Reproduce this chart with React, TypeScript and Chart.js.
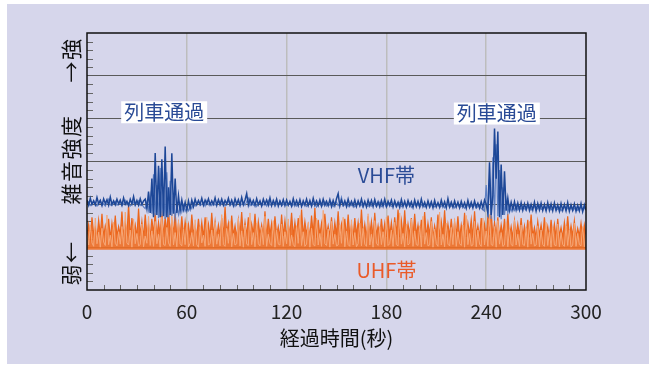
import React, { useEffect, useRef } from "react";
import { Chart, registerables } from "chart.js";

Chart.register(...registerables);

// x-axis tick labels (seconds)
const X_TICKS = [0, 60, 120, 180, 240, 300];
const X_MAX = 300;
const Y_MAX = 6; // relative noise strength, arbitrary units
const SAMPLE_SEC = 1; // one sample per second

// VHF band noise level, main trace (t = 0..300 s)
const VHF = [
  2.10, 1.98, 2.14, 2.00, 2.08, 1.99, 2.16, 2.01, 2.09, 1.97, 2.13, 2.02, 2.11, 1.98, 2.17, 2.00, 2.08, 1.99, 2.12, 2.01,
  2.10, 1.98, 2.15, 2.00, 2.07, 1.97, 2.12, 2.01, 2.18, 1.99, 2.09, 1.98, 2.13, 2.00, 2.08, 2.12, 1.90, 2.30, 1.80, 2.60,
  1.70, 3.20, 1.75, 2.90, 1.70, 3.05, 1.72, 3.35, 1.70, 2.40, 1.75, 3.19, 1.78, 2.60, 1.80, 2.20, 1.85, 2.10, 1.88, 2.05,
  1.86, 2.08, 1.90, 2.10, 1.95, 2.12, 1.99, 2.09, 2.00, 2.14, 1.98, 2.10, 2.01, 2.13, 1.99, 2.08, 2.00, 2.15, 1.98, 2.11,
  2.00, 2.12, 1.98, 2.09, 2.01, 2.14, 1.99, 2.10, 1.97, 2.13, 2.00, 2.11, 1.98, 2.16, 1.99, 2.10, 2.25, 1.98, 2.12, 2.00,
  2.09, 1.97, 2.13, 1.99, 2.08, 1.96, 2.12, 2.00, 2.10, 1.98, 2.15, 1.97, 2.09, 1.99, 2.12, 1.96, 2.08, 1.98, 2.11, 1.97,
  2.10, 1.98, 2.07, 1.96, 2.13, 1.98, 2.09, 1.97, 2.11, 1.95, 2.08, 1.98, 2.12, 1.97, 2.09, 1.96, 2.14, 1.98, 2.08, 1.97,
  2.10, 1.96, 2.12, 1.98, 2.07, 1.97, 2.11, 1.95, 2.09, 1.97, 2.13, 2.25, 1.96, 2.10, 1.98, 2.08, 1.95, 2.12, 1.97, 2.07,
  1.96, 2.10, 1.95, 2.08, 1.97, 2.12, 1.96, 2.07, 1.94, 2.10, 1.97, 2.09, 1.95, 2.11, 1.96, 2.06, 1.94, 2.09, 1.96, 2.12,
  1.95, 2.07, 1.97, 2.10, 1.94, 2.08, 1.96, 2.05, 1.93, 2.11, 1.95, 2.07, 1.94, 2.09, 1.96, 2.06, 1.93, 2.10, 1.95, 2.07,
  1.94, 2.12, 1.95, 2.05, 1.93, 2.08, 1.95, 2.06, 1.92, 2.09, 1.94, 2.04, 1.93, 2.10, 1.95, 2.06, 1.92, 2.13, 1.94, 2.05,
  1.93, 2.08, 1.94, 2.05, 1.92, 2.07, 1.94, 2.04, 1.91, 2.09, 1.93, 2.05, 1.92, 2.08, 1.94, 2.03, 1.91, 2.06, 1.92, 2.10,
  2.00, 1.80, 2.98, 1.75, 2.20, 3.77, 2.60, 3.70, 1.70, 2.93, 1.75, 2.77, 1.85, 2.15, 1.86, 2.05, 1.88, 2.06, 1.87, 2.03,
  1.87, 2.04, 1.86, 2.01, 1.88, 2.03, 1.86, 2.00, 1.87, 2.05, 1.85, 2.02, 1.87, 2.03, 1.86, 2.00, 1.85, 2.04, 1.86, 2.01,
  1.85, 2.03, 1.86, 1.99, 1.84, 2.02, 1.86, 2.00, 1.85, 2.04, 1.84, 1.99, 1.86, 2.01, 1.84, 1.98, 1.85, 2.02, 1.83, 1.99,
  1.86,
];

// VHF band noise level, second (lighter) trace
const VHF2 = [
  2.02, 2.06, 1.97, 2.00, 2.08, 1.99, 1.96, 2.04, 2.10, 1.98, 2.01, 1.96, 2.05, 2.12, 1.99, 1.97, 2.03, 2.07, 1.98, 2.00,
  2.06, 1.97, 2.01, 2.09, 1.99, 2.03, 1.96, 2.00, 2.05, 1.98, 2.02, 2.08, 1.97, 2.00, 1.94, 1.90, 2.05, 1.86, 2.20, 1.78,
  2.70, 1.74, 2.45, 1.68, 2.85, 1.72, 2.30, 1.66, 2.75, 1.70, 2.55, 1.73, 2.20, 1.69, 1.95, 1.76, 2.02, 1.82, 1.98, 1.84,
  1.92, 1.85, 1.97, 1.90, 2.03, 1.96, 2.01, 2.06, 1.97, 2.00, 2.04, 1.96, 2.08, 1.99, 2.02, 1.97, 2.05, 1.98, 2.01, 2.07,
  1.97, 2.02, 2.05, 1.96, 2.00, 2.09, 1.98, 2.01, 2.04, 1.95, 2.02, 2.07, 1.97, 2.00, 2.03, 1.98, 2.06, 2.14, 1.97, 2.02,
  1.98, 2.04, 1.95, 2.01, 2.06, 1.97, 1.99, 2.03, 1.96, 2.08, 1.98, 2.00, 2.05, 1.95, 2.02, 1.99, 2.07, 1.96, 2.00, 2.04,
  1.97, 2.01, 2.05, 1.95, 1.99, 2.04, 1.96, 2.02, 2.07, 1.97, 1.99, 2.03, 1.95, 2.00, 2.06, 1.96, 2.01, 2.04, 1.94, 2.00,
  2.03, 1.95, 1.99, 2.06, 1.96, 2.01, 1.98, 2.04, 1.95, 2.00, 2.05, 1.97, 2.02, 2.16, 1.96, 1.99, 2.04, 1.95, 2.01, 1.97,
  2.03, 1.94, 1.99, 2.05, 1.96, 2.00, 1.93, 2.02, 1.97, 1.95, 2.04, 1.96, 1.99, 2.02, 1.94, 2.00, 2.05, 1.95, 1.98, 2.01,
  1.94, 1.99, 2.03, 1.95, 1.97, 2.02, 1.93, 2.00, 2.04, 1.95, 1.98, 2.01, 1.94, 1.99, 2.03, 1.93, 1.97, 2.00, 1.95, 2.02,
  1.93, 1.98, 2.01, 1.94, 1.96, 2.03, 1.92, 1.99, 2.00, 1.94, 1.97, 2.02, 1.93, 1.96, 2.00, 1.92, 1.98, 2.01, 1.93, 1.96,
  2.00, 1.92, 1.97, 2.01, 1.93, 1.95, 1.99, 1.91, 1.96, 2.00, 1.92, 1.97, 1.94, 1.99, 1.91, 1.95, 1.98, 1.90, 1.88, 1.84,
  2.45, 1.70, 2.60, 1.66, 3.10, 1.62, 3.40, 1.72, 2.80, 1.65, 2.40, 1.75, 2.10, 1.80, 1.97, 1.84, 1.95, 1.86, 1.99, 1.87,
  1.93, 1.88, 1.96, 1.90, 1.86, 1.94, 1.98, 1.87, 1.92, 1.95, 1.86, 1.91, 1.97, 1.88, 1.90, 1.94, 1.86, 1.93, 1.96, 1.87,
  1.91, 1.95, 1.86, 1.89, 1.93, 1.85, 1.90, 1.96, 1.86, 1.92, 1.88, 1.94, 1.85, 1.90, 1.93, 1.86, 1.89, 1.95, 1.85, 1.91,
  1.88,
];

// UHF band noise level, main trace (t = 0..300 s)
const UHF = [
  1.26, 1.53, 1.22, 1.70, 1.30, 1.46, 1.20, 1.63, 1.28, 1.78, 1.23, 1.50, 1.32, 1.66, 1.19, 1.56, 1.26, 1.74, 1.24, 1.48,
  1.29, 1.83, 1.22, 1.58, 1.27, 2.00, 1.21, 1.68, 1.31, 1.52, 1.23, 1.90, 1.26, 1.60, 1.20, 1.76, 1.28, 1.54, 1.24, 1.66,
  1.30, 1.80, 1.22, 1.58, 1.27, 1.86, 1.23, 1.70, 1.32, 1.92, 1.25, 1.63, 1.29, 1.82, 1.21, 1.56, 1.26, 1.72, 1.23, 1.60,
  1.28, 1.53, 1.22, 1.76, 1.30, 1.48, 1.24, 1.66, 1.27, 1.58, 1.21, 1.70, 1.29, 1.54, 1.23, 1.80, 1.26, 1.60, 1.22, 1.52,
  1.28, 1.68, 1.24, 1.94, 1.30, 1.56, 1.23, 1.74, 1.27, 1.50, 1.21, 1.63, 1.29, 1.82, 1.24, 1.58, 1.26, 1.70, 1.22, 1.54,
  1.30, 1.78, 1.23, 1.60, 1.28, 1.52, 1.25, 1.84, 1.21, 1.66, 1.29, 1.56, 1.24, 1.72, 1.27, 1.48, 1.22, 1.76, 1.26, 1.62,
  1.23, 1.54, 1.29, 1.80, 1.24, 1.58, 1.27, 1.68, 1.21, 1.88, 1.26, 1.60, 1.30, 1.52, 1.23, 1.74, 1.28, 1.92, 1.22, 1.64,
  1.27, 1.56, 1.23, 1.78, 1.29, 1.50, 1.25, 1.70, 1.21, 1.58, 1.28, 1.84, 1.24, 1.54, 1.30, 1.66, 1.22, 1.76, 1.26, 1.52,
  1.23, 1.68, 1.28, 1.58, 1.24, 1.88, 1.27, 1.54, 1.21, 1.72, 1.29, 1.60, 1.23, 1.80, 1.26, 1.50, 1.22, 1.66, 1.28, 1.56,
  1.24, 1.74, 1.27, 1.58, 1.22, 1.70, 1.29, 1.88, 1.23, 1.62, 1.26, 1.86, 1.21, 1.54, 1.28, 1.68, 1.24, 1.78, 1.27, 1.52,
  1.22, 1.64, 1.26, 1.82, 1.23, 1.56, 1.29, 1.70, 1.21, 1.50, 1.27, 1.76, 1.24, 1.60, 1.28, 1.86, 1.22, 1.54, 1.26, 1.66,
  1.23, 1.58, 1.28, 1.72, 1.21, 1.52, 1.26, 1.80, 1.24, 1.56, 1.29, 1.64, 1.22, 1.84, 1.27, 1.50, 1.23, 1.68, 1.26, 1.54,
  1.22, 1.74, 1.28, 1.82, 1.24, 1.58, 1.26, 1.70, 1.21, 1.52, 1.27, 1.66, 1.23, 1.78, 1.25, 1.48, 1.22, 1.62, 1.28, 1.54,
  1.24, 1.68, 1.21, 1.50, 1.27, 1.64, 1.23, 1.76, 1.25, 1.46, 1.22, 1.60, 1.28, 1.52, 1.23, 1.70, 1.26, 1.48, 1.21, 1.64,
  1.27, 1.54, 1.23, 1.66, 1.25, 1.46, 1.22, 1.58, 1.28, 1.72, 1.24, 1.50, 1.26, 1.62, 1.22, 1.44, 1.27, 1.56, 1.23, 1.52,
  1.25,
];

// UHF band noise level, second (lighter) trace
const UHF2 = [
  1.30, 1.05, 1.52, 1.10, 1.02, 1.68, 1.08, 1.35, 1.00, 1.44, 1.12, 1.04, 1.75, 1.06, 1.28, 1.01, 1.58, 1.09, 1.03, 1.36,
  1.07, 1.48, 1.02, 1.82, 1.10, 1.05, 1.40, 1.00, 1.66, 1.08, 1.32, 1.03, 1.06, 1.54, 1.01, 1.26, 1.09, 1.72, 1.04, 1.38,
  1.02, 1.60, 1.08, 1.30, 1.00, 1.70, 1.06, 1.04, 1.46, 1.10, 1.02, 1.78, 1.05, 1.34, 1.01, 1.62, 1.08, 1.03, 1.42, 1.06,
  1.56, 1.01, 1.09, 1.34, 1.03, 1.64, 1.06, 1.00, 1.48, 1.10, 1.28, 1.02, 1.70, 1.05, 1.08, 1.40, 1.01, 1.58, 1.07, 1.30,
  1.03, 1.76, 1.06, 1.02, 1.44, 1.09, 1.60, 1.01, 1.32, 1.05, 1.08, 1.68, 1.03, 1.38, 1.00, 1.52, 1.07, 1.04, 1.80, 1.06,
  1.34, 1.01, 1.56, 1.08, 1.03, 1.46, 1.06, 1.72, 1.02, 1.30, 1.09, 1.04, 1.62, 1.00, 1.40, 1.07, 1.05, 1.54, 1.02, 1.36,
  1.08, 1.66, 1.03, 1.28, 1.06, 1.01, 1.50, 1.09, 1.74, 1.04, 1.36, 1.02, 1.07, 1.58, 1.00, 1.44, 1.06, 1.03, 1.68, 1.05,
  1.32, 1.02, 1.86, 1.08, 1.04, 1.42, 1.00, 1.60, 1.07, 1.30, 1.03, 1.05, 1.52, 1.09, 1.70, 1.01, 1.38, 1.06, 1.02, 1.64,
  1.05, 1.34, 1.01, 1.08, 1.56, 1.03, 1.44, 1.07, 1.02, 1.78, 1.05, 1.30, 1.00, 1.62, 1.09, 1.04, 1.48, 1.06, 1.36, 1.01,
  1.70, 1.04, 1.08, 1.40, 1.02, 1.58, 1.06, 1.03, 1.80, 1.07, 1.32, 1.01, 1.54, 1.05, 1.09, 1.66, 1.02, 1.38, 1.06, 1.04,
  1.50, 1.01, 1.72, 1.07, 1.34, 1.03, 1.05, 1.60, 1.00, 1.42, 1.08, 1.02, 1.82, 1.05, 1.30, 1.01, 1.56, 1.07, 1.03, 1.46,
  1.06, 1.66, 1.02, 1.36, 1.08, 1.04, 1.52, 1.00, 1.74, 1.06, 1.32, 1.03, 1.05, 1.60, 1.01, 1.40, 1.07, 1.02, 1.68, 1.05,
  1.38, 1.02, 1.76, 1.06, 1.04, 1.48, 1.00, 1.62, 1.07, 1.34, 1.02, 1.05, 1.56, 1.01, 1.42, 1.06, 1.03, 1.64, 1.05, 1.30,
  1.02, 1.52, 1.06, 1.04, 1.44, 1.00, 1.60, 1.07, 1.32, 1.03, 1.05, 1.50, 1.01, 1.40, 1.06, 1.02, 1.58, 1.04, 1.36, 1.00,
  1.46, 1.05, 1.03, 1.54, 1.01, 1.34, 1.06, 1.02, 1.50, 1.04, 1.40, 1.00, 1.05, 1.56, 1.02, 1.32, 1.06, 1.03, 1.48, 1.01,
  1.30,
];
const UHF_FLOOR = 0.94;

// annotation texts, placed in data coordinates (seconds, level)
const NOTE_TEXTS = ["列車通過", "列車通過", "VHF帯", "UHF帯"];
const NOTE_T = [46.4, 246.4, 180, 180];
const NOTE_V = [4.15, 4.12, 2.67, 0.45];

const Y_TITLE_TOP = "→強";
const Y_TITLE_MID = "雑音強度";
const Y_TITLE_BOT = "弱←";
const X_TITLE = "経過時間(秒)";

const BLUE = "#1d4797";
const BLUE_LIGHT = "#5d7fc2";
const TEXT_BLUE = "#2a4b96";
const ORANGE = "#ec661c";
const ORANGE_LIGHT = "#f5a777";
const TEXT_ORANGE = "#ea5a28";
const JP = "'Noto Sans CJK JP', 'Noto Sans', sans-serif";

const decor = {
  id: "decor",
  beforeDatasetsDraw(chart: any) {
    const { ctx, chartArea: a, scales } = chart;
    const x = scales.x, y = scales.y;
    ctx.save();
    ctx.strokeStyle = "#666";
    ctx.lineWidth = 1;
    for (let i = 1; i < Y_MAX * 5; i++) {
      if (i % 5 === 0) continue;
      const py = Math.round(y.getPixelForValue(i / 5)) + 0.5;
      ctx.beginPath();
      ctx.moveTo(a.left, py);
      ctx.lineTo(a.left + 6, py);
      ctx.stroke();
    }
    for (let s = 10; s < X_MAX; s += 10) {
      if (s % 60 === 0) continue;
      const px = Math.round(x.getPixelForValue(s)) + 0.5;
      ctx.beginPath();
      ctx.moveTo(px, a.bottom);
      ctx.lineTo(px, a.bottom - 5);
      ctx.stroke();
    }
    ctx.restore();
  },
  afterDatasetsDraw(chart: any) {
    const { ctx, chartArea: a, scales } = chart;
    const x = scales.x, y = scales.y;
    ctx.save();
    ctx.strokeStyle = "#111";
    ctx.lineWidth = 1.5;
    ctx.strokeRect(a.left, a.top, a.right - a.left, a.bottom - a.top);

    ctx.font = `20px ${JP}`;
    ctx.textAlign = "center";
    ctx.textBaseline = "middle";
    NOTE_TEXTS.forEach((txt, i) => {
      const px = x.getPixelForValue(NOTE_T[i]);
      const py = y.getPixelForValue(NOTE_V[i]);
      if (i < 2) {
        const w = ctx.measureText(txt).width;
        ctx.fillStyle = "#fff";
        ctx.fillRect(px - w / 2 - 3, py - 11, w + 6, 22);
      }
      ctx.fillStyle = i === 3 ? TEXT_ORANGE : TEXT_BLUE;
      ctx.fillText(txt, px, py);
    });

    // y-axis title (rotated)
    ctx.fillStyle = "#111";
    ctx.font = `21px ${JP}`;
    const tx = a.left - 16;
    const parts: [string, number][] = [
      [Y_TITLE_TOP, a.top + 27],
      [Y_TITLE_MID, (a.top + a.bottom) / 2 - 2],
      [Y_TITLE_BOT, a.bottom - 27],
    ];
    parts.forEach(([t, cy]) => {
      ctx.save();
      ctx.translate(tx, cy);
      ctx.rotate(-Math.PI / 2);
      (ctx as any).letterSpacing = "1.5px";
      ctx.fillText(t, 0, 0);
      ctx.restore();
    });
    ctx.restore();
  },
};

const toPoints = (arr: number[]) => arr.map((v, i) => ({ x: i * SAMPLE_SEC, y: v }));

export default function App() {
  const ref = useRef<HTMLCanvasElement | null>(null);
  useEffect(() => {
    if (!ref.current) return;
    const line = { pointRadius: 0, tension: 0, fill: false };
    const chart = new Chart(ref.current, {
      type: "line",
      data: {
        datasets: [
          { ...line, label: "VHF帯", data: toPoints(VHF), borderColor: BLUE, borderWidth: 1.5 },
          { ...line, label: "VHF帯 (2)", data: toPoints(VHF2), borderColor: BLUE_LIGHT, borderWidth: 1.2 },
          { ...line, label: "UHF帯 (2)", data: toPoints(UHF2), borderColor: ORANGE_LIGHT, borderWidth: 1 },
          {
            ...line,
            label: "UHF帯",
            data: toPoints(UHF),
            borderColor: ORANGE,
            backgroundColor: "rgba(238,110,36,0.9)",
            borderWidth: 1.2,
            fill: { value: UHF_FLOOR },
          },
        ],
      },
      options: {
        responsive: false,
        animation: false,
        devicePixelRatio: 1,
        layout: { padding: { left: 0, right: 63, top: 29, bottom: 0 } },
        plugins: { legend: { display: false }, tooltip: { enabled: false } },
        scales: {
          x: {
            type: "linear",
            min: 0,
            max: X_MAX,
            afterBuildTicks: (s: any) => {
              s.ticks = X_TICKS.map((v) => ({ value: v }));
            },
            afterFit: (s: any) => {
              s.height = 74;
            },
            ticks: {
              font: { family: JP, size: 19 },
              color: "#222",
              padding: 10,
              maxRotation: 0,
            },
            grid: {
              drawTicks: false,
              color: (c: any) => (c.tick && c.tick.value > 0 && c.tick.value < X_MAX ? "#bdbdbd" : "transparent"),
              lineWidth: 1.5,
            },
            border: { display: false },
            title: {
              display: true,
              text: X_TITLE,
              font: { family: JP, size: 20 },
              color: "#111",
              padding: { top: 0, bottom: 14 },
            },
          },
          y: {
            type: "linear",
            min: 0,
            max: Y_MAX,
            afterFit: (s: any) => {
              s.width = 80;
            },
            ticks: { display: false, stepSize: 1 },
            grid: {
              drawTicks: false,
              color: (c: any) => (c.tick && c.tick.value > 0 && c.tick.value < Y_MAX ? "#5a5a5a" : "transparent"),
              lineWidth: 1,
            },
            border: { display: false },
          },
        },
      },
      plugins: [decor],
    });
    return () => chart.destroy();
  }, []);

  return (
    <div
      style={{
        position: "absolute",
        left: 7,
        top: 4,
        width: 642,
        height: 360,
        background: "#d6d6eb",
      }}
    >
      <canvas ref={ref} width={642} height={360} style={{ display: "block" }} />
    </div>
  );
}
